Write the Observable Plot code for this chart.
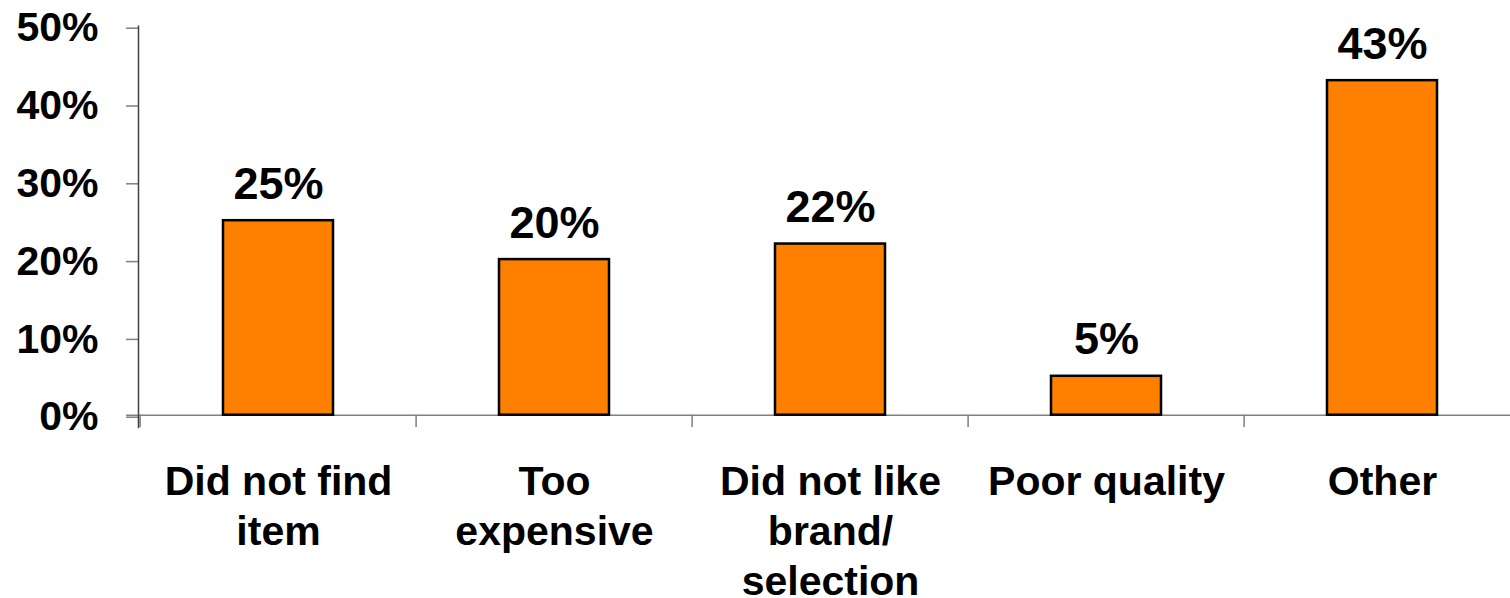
<!DOCTYPE html>
<html>
<head>
<meta charset="utf-8">
<script src="https://cdn.jsdelivr.net/npm/d3@7"></script>
<script src="https://cdn.jsdelivr.net/npm/@observablehq/plot@0.6"></script>
<style>
  html, body { margin: 0; padding: 0; background: #fff; }
  #chart svg { display: block; overflow: hidden; }
</style>
</head>
<body>
<div id="chart"></div>
<script>
// Data
const categories = [
  "Did not find\nitem",
  "Too\nexpensive",
  "Did not like\nbrand/\nselection",
  "Poor quality",
  "Other"
];
const values = [25, 20, 22, 5, 43];
const yTicks = [0, 10, 20, 30, 40, 50];

const data = categories.map((c, i) => ({category: c, value: values[i]}));

const W = 1510, H = 598;
const left = 138, right = 1522;
const step = (right - left) / categories.length;
const font = "'Liberation Sans', Arial, Helvetica, sans-serif";

const chart = Plot.plot({
  width: W,
  height: H,
  marginLeft: left,
  marginRight: 0,
  marginTop: 25.7,
  marginBottom: 183.3,
  style: {fontFamily: font, background: "#fff", color: "#000"},
  x: {domain: categories, range: [left, right], paddingInner: 0.6, paddingOuter: 0.3, axis: null},
  y: {domain: [0, 50], axis: null},
  marks: [
    // horizontal axis line at 0
    Plot.ruleY([0], {stroke: "#808080", strokeWidth: 1.5, insetLeft: -12}),
    // category boundary ticks
    Plot.ruleX(categories, {x: d => d, y1: 0, y2: 0, insetBottom: -12.3, dx: -step / 2, stroke: "#808080", strokeWidth: 1.5}),
    // bars
    Plot.barY(data, {x: "category", y: "value", fill: "#FF7F00", stroke: "#000", strokeWidth: 2.5}),
    // value labels
    Plot.text(data, {
      x: "category", y: "value", text: d => d.value + "%",
      lineAnchor: "bottom", dy: -22,
      fontSize: 45, fontWeight: "bold", fill: "#000"
    }),
    // category labels
    Plot.text(data, {
      x: "category", y: 0, text: "category",
      lineAnchor: "top", dy: 44, lineHeight: 1.22,
      fontSize: 41, fontWeight: "bold", fill: "#000"
    }),
    // y axis
    Plot.axisY({
      ticks: yTicks, tickFormat: d => d + "%", tickSize: 12, tickPadding: 28,
      fontSize: 41, fontWeight: "bold", stroke: "#808080", fill: "#000",
      strokeWidth: 1.5, label: null, dy: 2
    }),
    // y axis line
    Plot.frame({anchor: "left", insetBottom: -12.3, stroke: "#404040", strokeWidth: 1.5})
  ]
});
document.getElementById("chart").appendChild(chart);
</script>
</body>
</html>
